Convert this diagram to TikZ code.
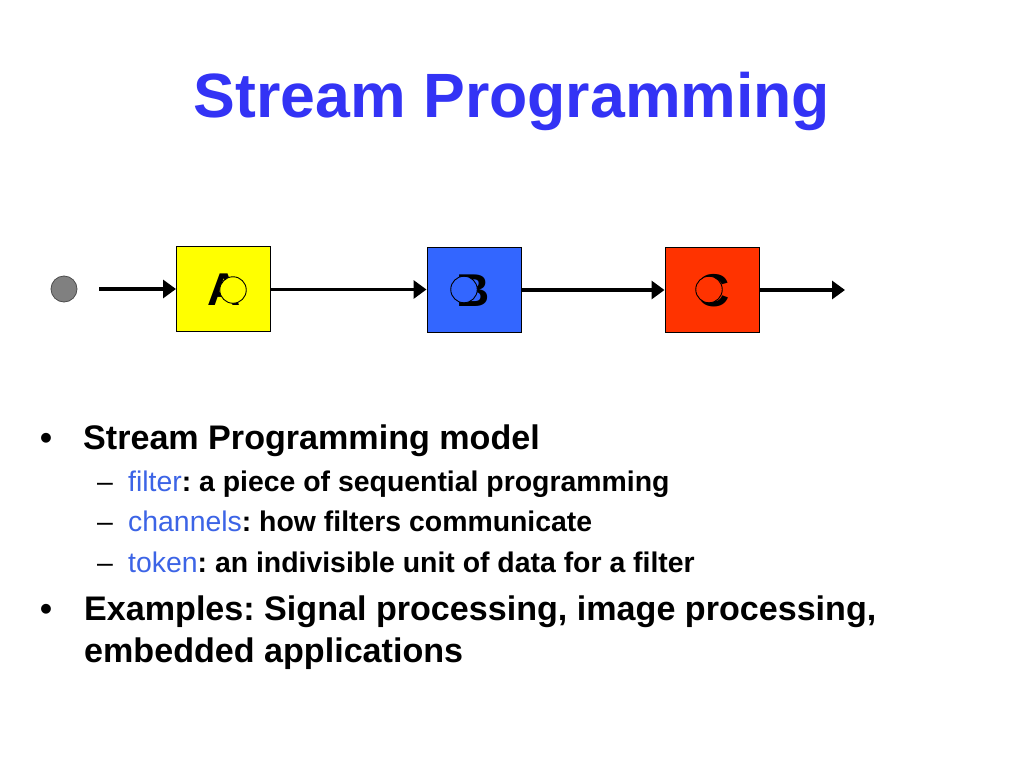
\documentclass[tikz,border=0pt]{standalone}
\usepackage{fontspec}
\setmainfont{Liberation Sans}
\usetikzlibrary{arrows.meta}
\definecolor{titleblue}{RGB}{51,51,245}
\definecolor{keyblue}{RGB}{60,100,230}
\definecolor{boxyellow}{RGB}{255,255,0}
\definecolor{boxblue}{RGB}{51,102,255}
\definecolor{boxred}{RGB}{255,51,0}
\definecolor{dotgray}{RGB}{128,128,128}
\frenchspacing
\tikzset{
  filterbox/.style={draw=black, line width=1pt, minimum width=94pt, minimum height=85pt, inner sep=0pt},
  flow/.style={line width=3.3pt, -{Triangle[length=13pt,width=18pt]}},
  letter/.style={font=\fontsize{46}{50}\selectfont\bfseries, inner sep=0pt, anchor=base},
  ring/.style={circle, draw=black, line width=0.9pt, minimum size=26.5pt, inner sep=0pt},
  txt/.style={anchor=base west, inner sep=0pt},
  big/.style={font=\fontsize{34.1}{40}\selectfont\bfseries},
  small/.style={font=\fontsize{28.4}{34}\selectfont\bfseries},
  dashmark/.style={font=\fontsize{28.4}{34}\selectfont\mdseries},
}
\begin{document}
\begin{tikzpicture}[x=1pt,y=-1pt]
\useasboundingbox[fill=white] (0,0) rectangle (1024,768);
% title
\node[anchor=base, inner sep=0pt, text=titleblue, font=\fontsize{62.6}{70}\selectfont\bfseries] (title) at (512,117) {Stream Programming};
% diagram
\node[circle, fill=dotgray, draw=black!70, line width=0.8pt, minimum size=26pt, inner sep=0pt] (dot) at (64,289) {};
\node[filterbox, fill=boxyellow] (A) at (223.5,288.5) {};
\node[filterbox, fill=boxblue] (B) at (474,289.5) {};
\node[filterbox, fill=boxred] (C) at (712,289.5) {};
\node[letter] (lA) at (224,305) {A};
\node[ring, fill=boxyellow] (rA) at (233,290) {};
\node[letter] (lB) at (473,306) {B};
\node[ring, fill=boxblue] (rB) at (464,289.5) {};
\node[letter] (lC) at (713,306) {C};
\node[ring, fill=boxred] (rC) at (709,289.5) {};
\coordinate (out) at (845,290);
\draw[flow, shorten <=22pt] (dot) -- (A.west|-dot);
\draw[flow] (A.east|-0,289.5) -- (B.west|-0,289.5);
\draw[flow] (B.east|-0,290) -- (C.west|-0,290);
\draw[flow] (C.east|-out) -- (out);
% bullets
\node[txt, big] (b1) at (40,449) {•};
\node[txt, big] (t1) at (83,449) {Stream Programming model};
\node[txt, dashmark] (d1) at (97,491) {–};
\node[txt, small] (t2) at (128,491) {\textcolor{keyblue}{\mdseries filter}: a piece of sequential programming};
\node[txt, dashmark] (d2) at (97,531) {–};
\node[txt, small] (t3) at (128,531) {\textcolor{keyblue}{\mdseries channels}: how filters communicate};
\node[txt, dashmark] (d3) at (97,572) {–};
\node[txt, small] (t4) at (128,572) {\textcolor{keyblue}{\mdseries token}: an indivisible unit of data for a filter};
\node[txt, big] (b2) at (40,620) {•};
\node[txt, big] (t5) at (84,620) {Examples: Signal processing, image processing,};
\node[txt, big] (t6) at (84,662) {embedded applications};
\end{tikzpicture}
\end{document}
